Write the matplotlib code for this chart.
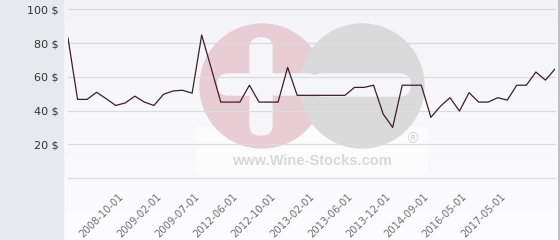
import numpy as np
import matplotlib
matplotlib.use("Agg")
import matplotlib.pyplot as plt
from matplotlib.patches import Circle, FancyBboxPatch, Rectangle

# price history, one value per quote
prices = [83, 46.6, 46.6, 50.8, 47, 43, 44.5, 48.5, 45, 43,
          49.6, 51.6, 52, 50.3, 84.8, 65, 45, 45, 45, 55,
          45, 45, 45, 65.6, 49, 49, 49, 49, 49, 49,
          53.7, 53.7, 55, 38, 30, 55, 55, 55, 36, 42.5,
          47.6, 39.7, 50.6, 45, 45, 47.6, 46.2, 55, 55, 62.8,
          58, 64.6]
tick_labels = ['2008-10-01', '2009-02-01', '2009-07-01', '2012-06-01',
               '2012-10-01', '2013-02-01', '2013-06-01', '2013-12-01',
               '2014-09-01', '2016-05-01', '2017-05-01']
label_first, label_step = 6, 4
y_ticks = [0, 20, 40, 60, 80, 100]

W, H = 560, 240
fig = plt.figure(figsize=(W / 100, H / 100), dpi=100)
fig.patch.set_facecolor('white')

# background layer in pixel coordinates
bg = fig.add_axes([0, 0, 1, 1], zorder=0)
bg.set_xlim(0, W)
bg.set_ylim(H, 0)
bg.axis('off')
grad = np.linspace(0.958, 0.992, 100)[:, None]
bg.imshow(np.dstack([grad, grad, grad + 0.008]).clip(0, 1),
          extent=(63, 558, H, 0), aspect='auto', zorder=0)
bg.add_patch(Rectangle((0, 0), 63, H, color='#e6eaee', zorder=1))
bg.plot([558.5, 558.5], [0, H], color='#b4b4b8', lw=1.2, zorder=2)

# watermark
bg.add_patch(Rectangle((197, 127), 230, 46, color='white', alpha=0.55, zorder=1))
bg.add_patch(Circle((262, 86), 62, color='#e9cdd5', zorder=2))
bg.add_patch(Circle((362, 86), 62, color='#dadada', zorder=3))
wm_white = '#f6f6f8'
bg.add_patch(FancyBboxPatch((250, 38), 22, 97, boxstyle='round,pad=0,rounding_size=10',
                            color=wm_white, zorder=4))
bg.add_patch(FancyBboxPatch((218, 74), 100, 21, boxstyle='round,pad=0,rounding_size=10',
                            color=wm_white, zorder=4))
bg.add_patch(FancyBboxPatch((312, 74), 98, 22, boxstyle='round,pad=0,rounding_size=10',
                            color=wm_white, zorder=4))
bg.text(312, 161, 'www.Wine-Stocks.com', ha='center', va='center', fontsize=10.5,
        fontweight='bold', color='#d8d8d8', family='Liberation Sans', zorder=5)
bg.text(413, 139, '®', ha='center', va='center', fontsize=10,
        color='#d2d2d2', family='Liberation Sans', zorder=5)

# main chart
ax = fig.add_axes([68 / W, (H - 178) / H, (555 - 68) / W, (178 - 9.3) / H], zorder=1)
ax.patch.set_alpha(0)
x = np.arange(len(prices))
ax.plot(x, prices, color='#3a1f2b', lw=0.9, zorder=3)
ax.set_xlim(0, len(prices) - 1)
ax.set_ylim(0, 100)
for v in y_ticks:
    ax.axhline(v, color='#dcdcdc', lw=0.9, zorder=1, clip_on=False)
for s in ax.spines.values():
    s.set_visible(False)

ax.set_yticks(y_ticks[1:])
ax.set_yticklabels([f'{v} $' for v in y_ticks[1:]])
ax.tick_params(axis='y', length=0, pad=7, labelsize=8, labelcolor='#333333')

ax.set_xticks(x[label_first::label_step][:len(tick_labels)])
ax.set_xticklabels(tick_labels, rotation=45, ha='right', va='top')
ax.tick_params(axis='x', length=0, pad=10, labelsize=7.2, labelcolor='#6e6e6e')

fig.savefig('out.png', dpi=100)
